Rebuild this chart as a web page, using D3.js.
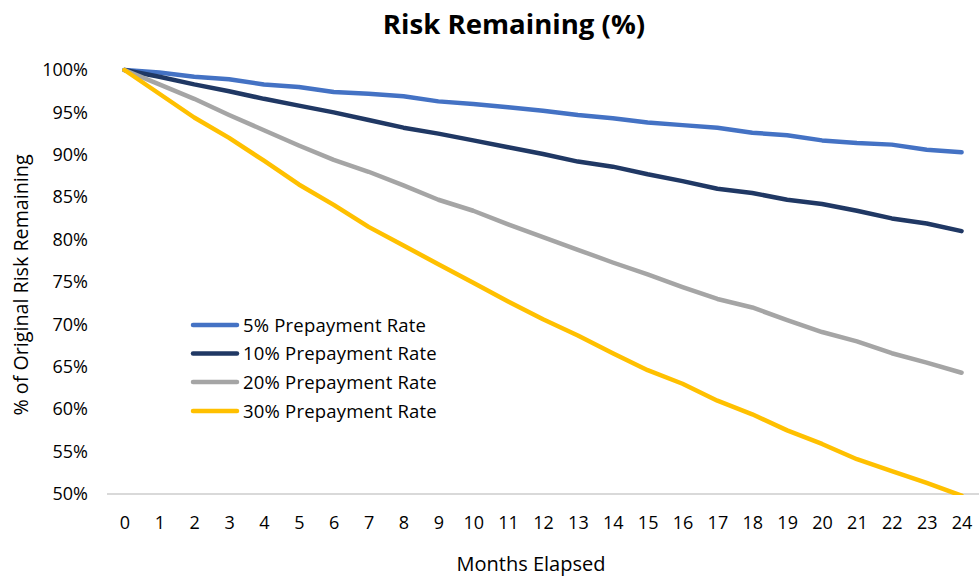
<!DOCTYPE html>
<html>
<head>
<meta charset="utf-8">
<script src="https://cdn.jsdelivr.net/npm/d3@7/dist/d3.min.js"></script>
<style>
  html, body { margin: 0; padding: 0; background: #fff; }
  svg { display: block; font-family: "Open Sans", "Lato", sans-serif; }
</style>
</head>
<body>
<svg id="chart" width="979" height="577"></svg>
<script>
const months = d3.range(0, 25);
const seriesNames = ["5% Prepayment Rate", "10% Prepayment Rate", "20% Prepayment Rate", "30% Prepayment Rate"];
const seriesColors = ["#4472C4", "#203864", "#A5A5A5", "#FFC000"];
const rate5  = [100, 99.7, 99.2, 98.9, 98.3, 98.0, 97.4, 97.2, 96.9, 96.3, 96.0, 95.6, 95.2, 94.7, 94.3, 93.8, 93.5, 93.2, 92.6, 92.3, 91.7, 91.4, 91.2, 90.6, 90.3];
const rate10 = [100, 99.2, 98.3, 97.5, 96.6, 95.8, 95.0, 94.1, 93.2, 92.5, 91.7, 90.9, 90.1, 89.2, 88.6, 87.7, 86.9, 86.0, 85.5, 84.7, 84.2, 83.4, 82.5, 81.9, 81.0];
const rate20 = [100, 98.3, 96.6, 94.7, 92.9, 91.1, 89.4, 88.0, 86.4, 84.7, 83.4, 81.8, 80.3, 78.8, 77.3, 75.9, 74.4, 73.0, 72.0, 70.5, 69.1, 68.0, 66.6, 65.5, 64.3];
const rate30 = [100, 97.2, 94.4, 92.0, 89.3, 86.5, 84.1, 81.5, 79.3, 77.1, 74.9, 72.7, 70.6, 68.7, 66.6, 64.6, 63.0, 61.0, 59.4, 57.5, 55.9, 54.1, 52.7, 51.3, 49.8];
const yTicks = [50, 55, 60, 65, 70, 75, 80, 85, 90, 95, 100];

const series = [rate5, rate10, rate20, rate30].map((vals, i) => ({
  name: seriesNames[i], color: seriesColors[i], values: vals
}));

const svg = d3.select("#chart");
const plotLeft = 107, plotRight = 979, plotTop = 70, plotBottom = 494;

const x = d3.scalePoint().domain(months).range([plotLeft, plotRight]).padding(0.5);
const y = d3.scaleLinear().domain([50, 100]).range([plotBottom, plotTop]);

// Title
svg.append("text")
  .attr("x", 514).attr("y", 34)
  .attr("text-anchor", "middle")
  .attr("font-size", 27.6).attr("font-weight", "bold")
  .attr("fill", "#000")
  .text("Risk Remaining (%)");

// Y axis (labels only)
const yAxis = d3.axisLeft(y).tickValues(yTicks).tickSize(0).tickPadding(0)
  .tickFormat(d => d + "%");
const gy = svg.append("g").attr("transform", `translate(88,0)`).call(yAxis);
gy.select(".domain").remove();
gy.selectAll("text").attr("font-size", 18).attr("fill", "#000")
  .attr("font-family", "'Open Sans', sans-serif");

// X axis
const xAxis = d3.axisBottom(x).tickSize(0).tickPadding(0);
const gx = svg.append("g").attr("transform", `translate(0,${plotBottom})`).call(xAxis);
gx.select(".domain").remove();
gx.selectAll("text").attr("font-size", 18).attr("fill", "#000")
  .attr("dy", 0).attr("y", 35)
  .attr("font-family", "'Open Sans', sans-serif");

// Baseline
svg.append("line")
  .attr("x1", plotLeft).attr("x2", plotRight)
  .attr("y1", y(50)).attr("y2", y(50))
  .attr("stroke", "#D9D9D9").attr("stroke-width", 2);

// Clip
svg.append("clipPath").attr("id", "plotclip")
  .append("rect").attr("x", plotLeft).attr("y", 0).attr("width", plotRight - plotLeft).attr("height", plotBottom + 1);

const line = d3.line().x((d, i) => x(months[i])).y(d => y(d));

svg.append("g").attr("clip-path", "url(#plotclip)")
  .selectAll("path").data(series).join("path")
  .attr("d", d => line(d.values))
  .attr("fill", "none")
  .attr("stroke", d => d.color)
  .attr("stroke-width", 4.5)
  .attr("stroke-linejoin", "round")
  .attr("stroke-linecap", "round");

// Axis titles
svg.append("text")
  .attr("x", 531).attr("y", 571)
  .attr("text-anchor", "middle")
  .attr("font-size", 20).attr("fill", "#000")
  .text("Months Elapsed");

svg.append("text")
  .attr("transform", "translate(28,285) rotate(-90)")
  .attr("text-anchor", "middle")
  .attr("font-size", 19.7).attr("fill", "#000")
  .text("% of Original Risk Remaining");

// Legend
const legendRowsY = [325, 353.5, 382, 411];
const lg = svg.append("g");
series.forEach((s, i) => {
  const ly = legendRowsY[i];
  lg.append("line")
    .attr("x1", 193).attr("x2", 237)
    .attr("y1", ly).attr("y2", ly)
    .attr("stroke", s.color).attr("stroke-width", 4.5)
    .attr("stroke-linecap", "round");
  lg.append("text")
    .attr("x", 243).attr("y", ly + 6.5)
    .attr("font-size", 18.5).attr("fill", "#000")
    .attr("letter-spacing", 0.2)
    .text(s.name);
});
</script>
</body>
</html>
